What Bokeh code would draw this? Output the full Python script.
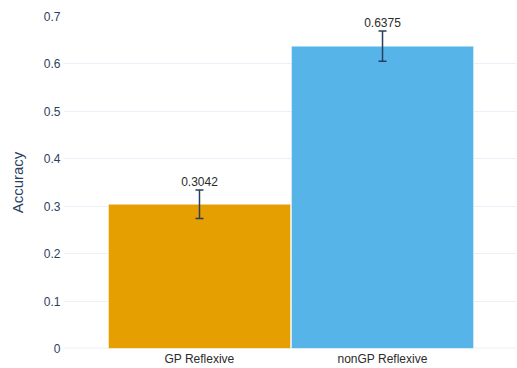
from bokeh.plotting import figure
from bokeh.models import ColumnDataSource, Whisker, TeeHead, FixedTicker, Span, Range1d
from bokeh.core.properties import value
from bokeh.embed import file_html
from bokeh.resources import INLINE

# Accuracy per condition, with error-bar half widths
categories = ["GP Reflexive", "nonGP Reflexive"]
accuracy = [0.3042, 0.6375]
error = [0.030, 0.032]
colors = ["#E69F00", "#56B4E9"]
y_ticks = [0, 0.1, 0.2, 0.3, 0.4, 0.5, 0.6, 0.7]

xs = list(range(len(categories)))
source = ColumnDataSource(data=dict(
    x=xs,
    acc=accuracy,
    upper=[a + e for a, e in zip(accuracy, error)],
    lower=[a - e for a, e in zip(accuracy, error)],
    color=colors,
    label=[f"{a:.4f}" for a in accuracy],
))

FONT = "Liberation Sans"
AXIS_COLOR = "#2a3f5f"
GRID_COLOR = "#EBF0F8"

p = figure(
    width=517, height=368,
    output_backend="svg", toolbar_location=None,
    x_range=Range1d(-0.743, 1.732), y_range=Range1d(0, 0.7),
    min_border_left=63, min_border_right=1,
    min_border_top=16, min_border_bottom=20,
)
p.outline_line_color = None
p.background_fill_color = "white"
p.border_fill_color = "white"

p.vbar(x="x", top="acc", width=0.995, bottom=0, source=source,
       fill_color="color", line_color="white", line_width=0.5)

p.add_layout(Span(location=0, dimension="width", line_color=GRID_COLOR,
                  line_width=2, level="underlay"))

whisker = Whisker(base="x", upper="upper", lower="lower", source=source,
                  line_color=AXIS_COLOR, line_width=1.5, level="overlay",
                  upper_head=TeeHead(size=8, line_color=AXIS_COLOR, line_width=1.5),
                  lower_head=TeeHead(size=8, line_color=AXIS_COLOR, line_width=1.5))
p.add_layout(whisker)

p.text(x="x", y="upper", text="label", source=source, y_offset=-4,
       text_align="center", text_baseline="bottom",
       text_font=value(FONT), text_font_size="12px", text_color="#2b2b2b")

# grid
p.xgrid.visible = False
p.ygrid.ticker = FixedTicker(ticks=y_ticks)
p.ygrid.grid_line_color = GRID_COLOR
p.ygrid.grid_line_width = 1

# y axis
p.yaxis.ticker = FixedTicker(ticks=y_ticks)
p.yaxis.major_label_overrides = {0: "0"}
p.yaxis.axis_label = "Accuracy"
p.yaxis.axis_label_text_font = FONT
p.yaxis.axis_label_text_font_size = "15px"
p.yaxis.axis_label_text_font_style = "normal"
p.yaxis.axis_label_text_color = AXIS_COLOR
p.yaxis.axis_label_standoff = 15
p.yaxis.major_label_text_font = FONT
p.yaxis.major_label_text_font_size = "12px"
p.yaxis.major_label_text_color = AXIS_COLOR
p.yaxis.major_label_standoff = 3
p.yaxis.major_tick_out = 0
p.yaxis.major_tick_in = 0
p.yaxis.axis_line_color = None
p.yaxis.major_tick_line_color = None
p.yaxis.minor_tick_line_color = None

# x axis
p.xaxis.ticker = FixedTicker(ticks=xs)
p.xaxis.major_label_overrides = {i: c for i, c in zip(xs, categories)}
p.xaxis.major_label_text_font = FONT
p.xaxis.major_label_text_font_size = "12px"
p.xaxis.major_label_text_color = "#2b2b2b"
p.xaxis.major_label_standoff = 3
p.xaxis.major_tick_out = 0
p.xaxis.major_tick_in = 0
p.xaxis.axis_line_color = None
p.xaxis.major_tick_line_color = None
p.xaxis.minor_tick_line_color = None

open("out.html", "w").write(file_html(p, INLINE))
